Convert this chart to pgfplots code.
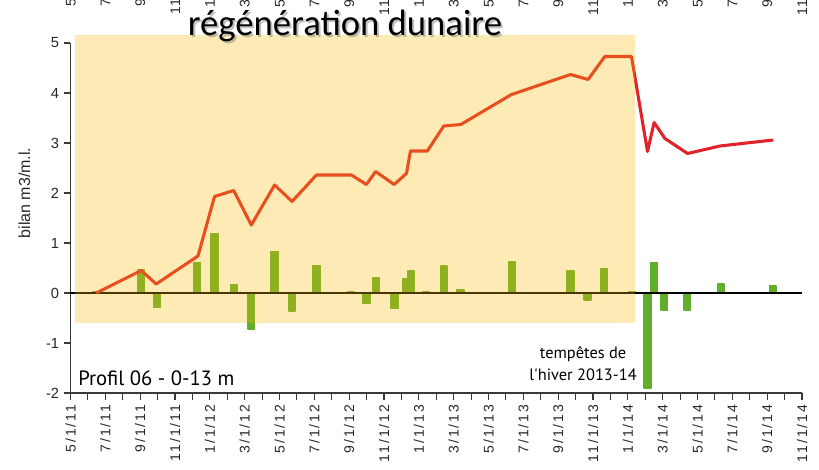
\documentclass[border=0pt]{standalone}
\usepackage{fontspec}
\setmainfont{Liberation Sans}
\newfontfamily\ticksp[LetterSpace=15]{Liberation Sans}
\newfontfamily\ptsans{PT Sans}
\newfontfamily\carlito{Carlito}
\usepackage{pgfplots}
\usepackage{pgfplotstable}
\pgfplotsset{compat=1.18}
\definecolor{barg}{HTML}{62AD2A}
\definecolor{linered}{HTML}{E2222A}
\definecolor{ovl}{HTML}{F8B908}
\definecolor{axg}{HTML}{3A3A3A}

\pgfplotstableread{
x y
1.48 0.02
4.06 0.47
4.96 -0.29
7.28 0.61
8.27 1.19
9.38 0.16
10.38 -0.72
11.72 0.83
12.72 -0.36
14.12 0.55
16.10 0.02
17.00 -0.21
17.55 0.30
18.60 -0.31
19.29 0.29
19.53 0.44
20.43 0.03
21.43 0.54
22.39 0.06
25.35 0.62
28.71 0.44
29.69 -0.14
30.64 0.48
32.25 0.03
33.13 -1.90
33.51 0.61
34.09 -0.34
35.41 -0.34
37.33 0.18
40.32 0.14
}\bars

\pgfplotstableread{
x y
1.48 0.00
4.06 0.45
4.92 0.18
7.32 0.74
8.27 1.93
9.37 2.05
10.38 1.36
11.72 2.16
12.72 1.83
14.12 2.36
16.13 2.36
16.99 2.17
17.52 2.43
18.58 2.17
19.29 2.39
19.52 2.84
20.49 2.84
21.43 3.34
22.41 3.37
25.32 3.97
28.71 4.37
29.72 4.27
30.68 4.73
32.21 4.73
33.13 2.83
33.51 3.41
34.13 3.09
35.43 2.79
37.29 2.94
40.35 3.06
}\bilan

\def\dates{5/1/11,7/1/11,9/1/11,11/1/11,1/1/12,3/1/12,5/1/12,7/1/12,9/1/12,11/1/12,1/1/13,3/1/13,5/1/13,7/1/13,9/1/13,11/1/13,1/1/14,3/1/14,5/1/14,7/1/14,9/1/14,11/1/14}

\begin{document}
\begin{tikzpicture}
\begin{axis}[name=ax, scale only axis, width=548.625pt, height=262.5pt,
  xmin=0, xmax=42, ymin=-2, ymax=5, clip=false,
  axis x line*=bottom, axis y line*=left,
  axis line style={axg, line width=1pt},
  tick align=outside, major tick length=5pt, minor tick length=5pt,
  tick style={axg, line width=0.8pt},
  xtick={0,2,...,42}, minor xtick={1,3,...,41},
  xticklabels/.expand once={\dates},
  xticklabel style={rotate=90, anchor=east, font=\ticksp\fontsize{10.5}{12}\selectfont, text=black!85},
  ytick={-2,-1,...,5},
  yticklabel style={font=\fontsize{11}{12}\selectfont, text=black!85},
  /pgf/number format/assume math mode=true,
  ylabel={bilan m3/m.l.},
  ylabel style={at={(axis description cs:-0.0629,0.5714)}, anchor=center, font=\fontsize{12}{14}\selectfont, text=black!85},
]
\addplot[ybar, bar width=5pt, bar shift=0pt, fill=barg, draw=barg, line width=1.2pt, line join=round] table[x=x,y=y]{\bars};
\addplot[black, line width=0.8pt] coordinates {(0,0) (42,0)};
\addplot[linered, line width=2.3pt, line join=round] table[x=x,y=y]{\bilan};
\addplot[draw=none, fill=ovl, fill opacity=0.3] coordinates {(0.25,-0.59) (32.4,-0.59) (32.4,5.16) (0.25,5.16)} -- cycle;
\node[anchor=base, font=\carlito\fontsize{27.5}{30}\selectfont, text=black!55, opacity=0.45] at (axis cs:15.76,5.16) [xshift=1.5pt, yshift=-1.8pt] {régénération dunaire};
\node[anchor=base, font=\carlito\fontsize{27.5}{30}\selectfont, text=black] at (axis cs:15.76,5.16) {régénération dunaire};
\node[anchor=base west, inner sep=0pt, font=\ptsans\fontsize{15.5}{18}\selectfont] at (axis cs:0.43,-1.84) {Profil 06 - 0-13 m};
\node[anchor=base, inner sep=0pt, font=\ptsans\fontsize{12.3}{15}\selectfont] at (axis cs:29.43,-1.30) {tempêtes de};
\node[anchor=base, inner sep=0pt, font=\ptsans\fontsize{12.3}{15}\selectfont] at (axis cs:29.43,-1.74) {l'hiver 2013-14};
\end{axis}
\begin{axis}[at={(ax.south west)}, anchor=south west, scale only axis, width=548.625pt, height=262.5pt,
  xmin=0, xmax=42, ymin=-2, ymax=5,
  hide y axis, axis x line*=top, axis line style={draw=none},
  major tick length=0pt, tick style={draw=none},
  xtick={0,2,...,42},
  xticklabels/.expand once={\dates},
  xticklabel shift=67.5pt,
  xticklabel style={rotate=90, anchor=east, xshift=0pt, font=\ticksp\fontsize{10.5}{12}\selectfont, text=black!85},
]
\addplot[draw=none] coordinates {(0,0)};
\end{axis}
\pgfresetboundingbox
\path[use as bounding box] ([shift={(-52.875pt,-57pt)}]ax.south west) rectangle ([shift={(561.375pt,294.75pt)}]ax.south west);
\end{tikzpicture}
\end{document}
